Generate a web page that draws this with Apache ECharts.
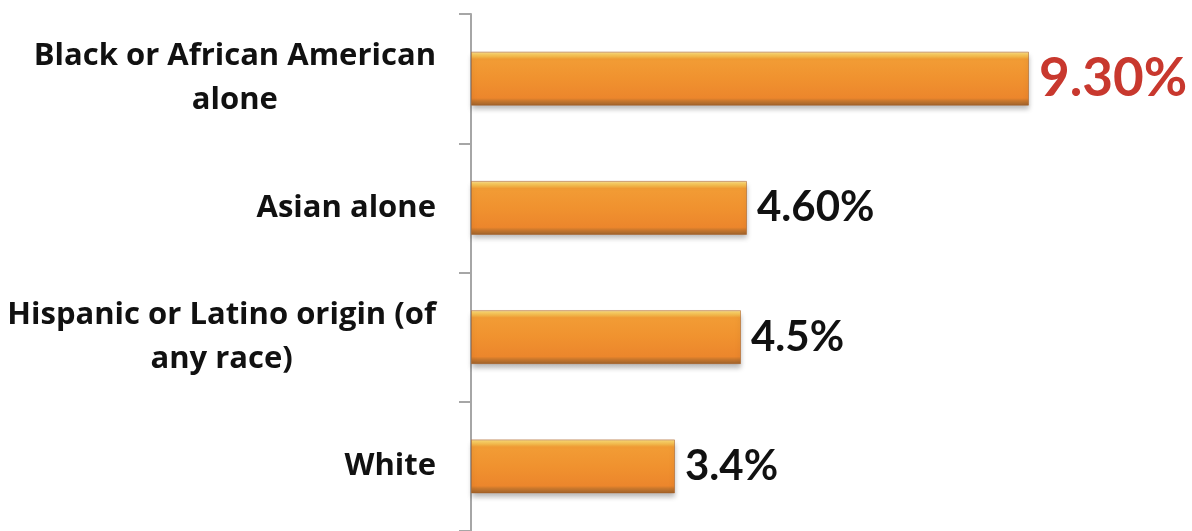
<!DOCTYPE html>
<html>
<head>
<meta charset="utf-8">
<script src="https://cdn.jsdelivr.net/npm/echarts@6/dist/echarts.min.js"></script>
<style>
  html, body { margin: 0; padding: 0; background: #ffffff; }
  #chart { width: 1192px; height: 531px; }
</style>
</head>
<body>
<div id="chart"></div>
<script>
// Groups shown on the category axis (top to bottom)
const categories = [
  'Black or African American\nalone',
  'Asian alone',
  'Hispanic or Latino origin (of\nany race)',
  'White'
];
// Percent values for each group
const values = [9.3, 4.6, 4.5, 3.4];
// Label text printed at the end of each bar
const valueLabels = ['9.30%', '4.60%', '4.5%', '3.4%'];
// Which bars get the highlighted (red, larger) label
const highlighted = [true, false, false, false];

const chart = echarts.init(document.getElementById('chart'), null, { renderer: 'canvas' });

const barFill = new echarts.graphic.LinearGradient(0, 0, 0, 1, [
  { offset: 0.00, color: '#f3dcb0' },
  { offset: 0.04, color: '#f8cf66' },
  { offset: 0.09, color: '#f6bb4c' },
  { offset: 0.14, color: '#f29c35' },
  { offset: 0.50, color: '#f0922f' },
  { offset: 0.86, color: '#ec862c' },
  { offset: 0.91, color: '#c9772c' },
  { offset: 1.00, color: '#9c622c' }
]);

const labelFont = '"Open Sans", "Noto Sans", sans-serif';
const valueFont = 'Lato, "Open Sans", sans-serif';

const seriesData = values.map((v, i) => ({
  value: v,
  label: {
    formatter: valueLabels[i],
    color: highlighted[i] ? '#c8382e' : '#111111',
    fontSize: highlighted[i] ? 53 : 42
  }
}));

chart.setOption({
  animation: false,
  backgroundColor: '#ffffff',
  grid: { left: 471, top: 14, width: 720, height: 522, containLabel: false },
  xAxis: {
    type: 'value',
    min: 0,
    max: 12,
    show: false
  },
  yAxis: {
    type: 'category',
    inverse: true,
    data: categories,
    axisLine: { show: true, lineStyle: { color: '#a6a6a6', width: 2 } },
    axisTick: { show: true, length: 12, lineStyle: { color: '#a6a6a6', width: 2 } },
    axisLabel: {
      margin: 35,
      formatter: (v) => v.split('\n').map(l => '{t|' + l + '}').join('\n'),
      rich: {
        t: {
          fontFamily: labelFont,
          fontWeight: 'bold',
          fontSize: 31,
          lineHeight: 44,
          color: '#111111',
          align: 'center'
        }
      }
    },
    splitLine: { show: false }
  },
  series: [{
    type: 'bar',
    data: seriesData,
    barWidth: 54,
    itemStyle: {
      color: barFill,
      borderColor: 'rgba(170, 95, 35, 0.55)',
      borderWidth: 1,
      shadowColor: 'rgba(0, 0, 0, 0.28)',
      shadowBlur: 5,
      shadowOffsetY: 4
    },
    label: {
      show: true,
      position: 'right',
      distance: 10,
      fontFamily: valueFont,
      fontWeight: 'bold'
    }
  }]
});
</script>
</body>
</html>
